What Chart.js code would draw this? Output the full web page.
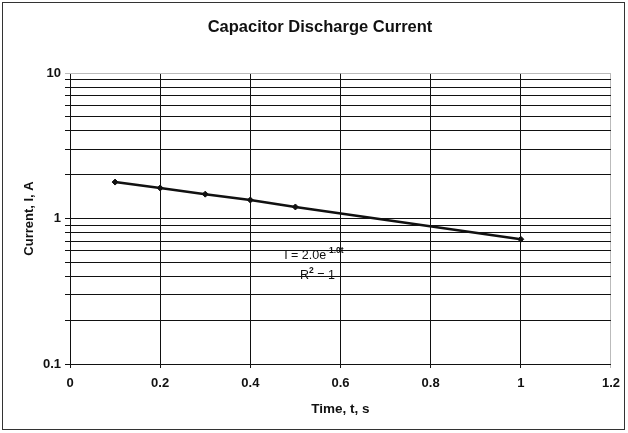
<!DOCTYPE html>
<html>
<head>
<meta charset="utf-8">
<script src="https://cdn.jsdelivr.net/npm/chart.js@4/dist/chart.umd.min.js"></script>
<style>
html,body{margin:0;padding:0;background:#fff;}
#wrap{width:628px;height:433px;}
</style>
</head>
<body>
<div id="wrap"><canvas id="c" width="628" height="433"></canvas></div>
<script>
// Data
const timeValues = [0.1, 0.2, 0.3, 0.4, 0.5, 1.0];
const currentValues = [1.78, 1.62, 1.47, 1.34, 1.2, 0.72];
const xTicks = [0, 0.2, 0.4, 0.6, 0.8, 1, 1.2];
const yTicks = [0.1,0.2,0.3,0.4,0.5,0.6,0.7,0.8,0.9,1,2,3,4,5,6,7,8,9,10];
const yLabels = [0.1, 1, 10];
const titleText = 'Capacitor Discharge Current';
const equationText = ['I = 2.0e', '-1.0t'];
const rSquaredText = ['R', '2', ' = 1'];

const points = timeValues.map((t, i) => ({x: t, y: currentValues[i]}));
const FONT = 'Arial, "Liberation Sans", sans-serif';

const decor = {
  id: 'decor',
  afterDraw(chart) {
    const ctx = chart.ctx;
    const xs = chart.scales.x, ys = chart.scales.y;
    ctx.save();
    // outer border
    ctx.strokeStyle = '#333';
    ctx.lineWidth = 1;
    ctx.strokeRect(2.5, 2.5, 622, 427);
    // title
    ctx.fillStyle = '#111';
    ctx.font = 'bold 16.5px ' + FONT;
    ctx.textAlign = 'center';
    ctx.textBaseline = 'middle';
    ctx.fillText(titleText, 320, 27);
    // equation label
    ctx.textAlign = 'left';
    ctx.textBaseline = 'alphabetic';
    ctx.font = '12.5px ' + FONT;
    let x0 = xs.getPixelForValue(0.475);
    let y0 = ys.getPixelForValue(0.53);
    ctx.fillText(equationText[0], x0, y0);
    let w = ctx.measureText(equationText[0]).width;
    ctx.font = 'bold 8.5px ' + FONT;
    ctx.fillText(equationText[1], x0 + w, y0 - 6);
    ctx.font = '12.5px ' + FONT;
    let x1 = xs.getPixelForValue(0.51);
    let y1 = ys.getPixelForValue(0.385);
    ctx.fillText(rSquaredText[0], x1, y1);
    let w1 = ctx.measureText(rSquaredText[0]).width;
    ctx.font = 'bold 8.5px ' + FONT;
    ctx.fillText(rSquaredText[1], x1 + w1, y1 - 6);
    let w2 = ctx.measureText(rSquaredText[1]).width;
    ctx.font = '12.5px ' + FONT;
    ctx.fillText(rSquaredText[2], x1 + w1 + w2, y1);
    ctx.restore();
  }
};

new Chart(document.getElementById('c'), {
  type: 'scatter',
  data: {
    datasets: [{
      data: points,
      showLine: true,
      borderColor: '#111',
      backgroundColor: '#111',
      borderWidth: 2.5,
      pointStyle: 'rectRot',
      pointRadius: 3,
      pointBorderWidth: 1,
      tension: 0
    }]
  },
  plugins: [decor],
  options: {
    responsive: false,
    animation: false,
    devicePixelRatio: 1,
    layout: {padding: {left: 0, right: 17, top: 73, bottom: 0}},
    plugins: {
      legend: {display: false},
      tooltip: {enabled: false},
      title: {display: false}
    },
    scales: {
      x: {
        type: 'linear',
        min: 0, max: 1.2,
        afterBuildTicks(scale) { scale.ticks = xTicks.map(v => ({value: v})); },
        afterFit(scale) { scale.height = 69; },
        border: {display: false},
        grid: {
          color: ctx => (ctx.tick && ctx.tick.value === 1.2) ? '#bbb' : '#111',
          lineWidth: 1,
          tickLength: 4,
          drawTicks: true
        },
        ticks: {
          color: '#111',
          padding: 8,
          maxRotation: 0,
          font: {family: FONT, size: 13, weight: 'bold'},
          callback: v => String(v)
        },
        title: {
          display: true,
          text: 'Time, t, s',
          color: '#111',
          font: {family: FONT, size: 13.5, weight: 'bold'},
          padding: {top: 4, bottom: 16}
        }
      },
      y: {
        type: 'logarithmic',
        min: 0.1, max: 10,
        afterBuildTicks(scale) { scale.ticks = yTicks.map(v => ({value: v})); },
        afterFit(scale) { scale.width = 70; },
        border: {display: false},
        grid: {
          color: ctx => (ctx.tick && ctx.tick.value === 10) ? '#bbb' : '#111',
          lineWidth: 1,
          tickLength: 5,
          drawTicks: true
        },
        ticks: {
          color: '#111',
          padding: 4,
          autoSkip: false,
          font: {family: FONT, size: 13, weight: 'bold'},
          callback: v => yLabels.some(l => Math.abs(l - v) < 1e-9) ? String(v) : ''
        },
        title: {
          display: true,
          text: 'Current, I, A',
          color: '#111',
          font: {family: FONT, size: 13, weight: 'bold'},
          padding: {top: 22, bottom: 4}
        }
      }
    }
  }
});
</script>
</body>
</html>
